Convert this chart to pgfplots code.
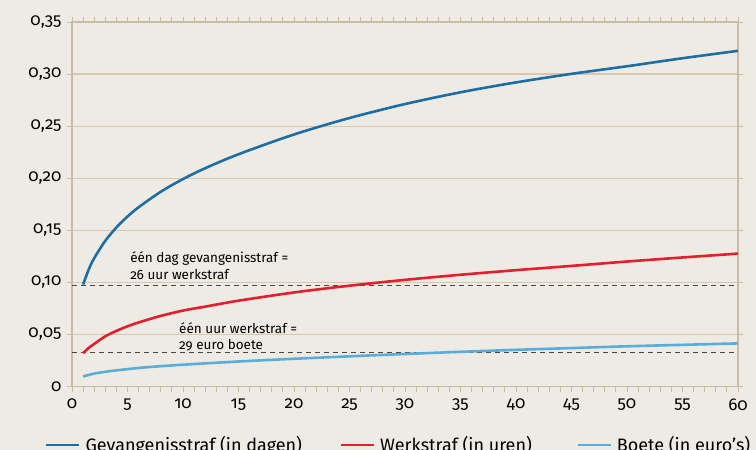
\documentclass[border=0pt]{standalone}
\usepackage{fontspec}
\setmainfont{Fira Sans}[Numbers=OldStyle]
\usepackage{pgfplots}
\pgfplotsset{compat=1.18}
\definecolor{bg}{HTML}{EEEBE4}
\definecolor{gridc}{HTML}{D6C8AF}
\definecolor{axc}{HTML}{CBBB9F}
\definecolor{c1}{HTML}{1F6EA3}
\definecolor{c2}{HTML}{E31E2D}
\definecolor{c3}{HTML}{5AADDA}
\definecolor{dashc}{HTML}{4A4540}
\begin{document}
\begin{tikzpicture}
\path[use as bounding box, fill=bg] (-72pt,-63.5pt) rectangle (684pt,386.5pt);
\begin{axis}[
  scale only axis, width=666pt, height=364.5pt,
  xmin=0, xmax=60, ymin=0, ymax=0.35,
  axis line style={axc, line width=1.2pt},
  xtick={0,5,10,15,20,25,30,35,40,45,50,55,60}, minor x tick num=4,
  ytick={0,0.05,0.10,0.15,0.20,0.25,0.30,0.35},
  yticklabels={0,{0,05},{0,10},{0,15},{0,20},{0,25},{0,30},{0,35}},
  ymajorgrids, grid style={gridc, line width=1.2pt},
  tick align=outside, major tick length=5pt, minor tick length=5pt,
  every tick/.style={axc, line width=0.8pt},
  /pgf/number format/assume math mode=true,
  tick label style={font=\fontsize{17}{20}\selectfont, black},
  xticklabel style={yshift=-4pt},
  yticklabel style={xshift=-2pt},
  legend columns=3,
  legend style={draw=none, fill=none, inner sep=0pt, outer sep=0pt,
    font=\fontsize{18}{21}\selectfont,
    nodes={inner sep=0pt},
    at={(axis description cs:-0.0405,-0.160)}, anchor=west,
    /tikz/every even column/.append style={column sep=0pt}},
  legend image code/.code={\draw[#1, line width=2.6pt] (0pt,0pt) -- (33pt,0pt);},
]
\addplot[dashc, line width=1.2pt, dash pattern=on 5pt off 4pt, forget plot] coordinates {(0,0.0972)(60,0.0972)};
\addplot[dashc, line width=1.2pt, dash pattern=on 5pt off 4pt, forget plot] coordinates {(0,0.0324)(60,0.0324)};
\addplot[c1, line width=2.6pt, smooth] coordinates {
(1,0.0979)(1.5,0.1122)(2,0.1232)(3,0.1399)(4,0.1527)(5,0.1632)(6,0.1721)(8,0.1870)(10,0.1992)(12,0.2096)(15,0.2230)(20,0.2420)(25,0.2578)(30,0.2712)(35,0.2825)(40,0.2920)(45,0.3002)(50,0.3075)(55,0.3152)(60,0.3223)};
\addlegendentry{\makebox[259pt][l]{\hspace{5pt}Gevangenisstraf (in dagen)}}
\addplot[c2, line width=2.6pt, smooth] coordinates {
(1,0.0320)(1.5,0.0370)(2,0.0409)(3,0.0482)(4,0.0534)(5,0.0578)(6,0.0615)(8,0.0678)(10,0.0729)(12,0.0767)(15,0.0824)(20,0.0903)(25,0.0968)(30,0.1024)(35,0.1073)(40,0.1117)(45,0.1158)(50,0.1200)(55,0.1239)(60,0.1276)};
\addlegendentry{\makebox[201pt][l]{\hspace{5pt}Werkstraf (in uren)}}
\addplot[c3, line width=2.6pt, smooth] coordinates {
(1,0.0097)(2,0.0124)(3,0.0141)(4,0.0155)(6,0.0178)(8,0.0195)(10,0.0209)(12,0.0222)(15,0.0240)(18,0.0256)(21,0.0271)(24,0.0285)(27,0.0299)(30,0.0312)(33,0.0325)(36,0.0337)(40,0.0352)(45,0.0369)(50,0.0386)(55,0.0400)(60,0.0414)};
\addlegendentry{\makebox[140pt][l]{\hspace{5pt}Boete (in euro's)}}
\node[anchor=base west, inner sep=0pt, font=\fontsize{13.5}{16}\selectfont] at (axis cs:5.23,0.1195) {één dag gevangenisstraf =};
\node[anchor=base west, inner sep=0pt, font=\fontsize{13.5}{16}\selectfont] at (axis cs:5.23,0.1027) {26 uur werkstraf};
\node[anchor=base west, inner sep=0pt, font=\fontsize{13.5}{16}\selectfont] at (axis cs:9.64,0.0510) {één uur werkstraf =};
\node[anchor=base west, inner sep=0pt, font=\fontsize{13.5}{16}\selectfont] at (axis cs:9.64,0.0360) {29 euro boete};
\end{axis}
\end{tikzpicture}
\end{document}
